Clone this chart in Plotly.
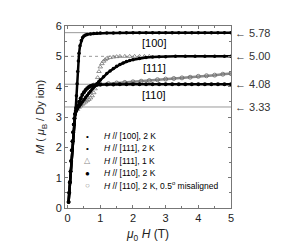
import plotly.graph_objects as go

# ---- data ----
low_x = [0.03, 0.05, 0.07, 0.09, 0.11, 0.13, 0.15, 0.17, 0.19, 0.21, 0.23]
low_m = [0.2, 0.5, 0.85, 1.2, 1.55, 1.9, 2.2, 2.5, 2.75, 2.95, 3.1]

h100_x = low_x + [0.25, 0.27, 0.29, 0.31, 0.33, 0.35, 0.38, 0.42, 0.46, 0.5, 0.55, 0.6, 0.7, 0.8, 0.9,
                  1.0, 1.2, 1.4, 1.6, 1.8, 2.0, 2.2, 2.4, 2.6, 2.8, 3.0, 3.2, 3.4, 3.6, 3.8, 4.0,
                  4.2, 4.4, 4.6, 4.8, 5.0]
h100_m = low_m + [3.3, 3.7, 4.1, 4.5, 4.85, 5.1, 5.35, 5.52, 5.62, 5.67, 5.7, 5.72, 5.74, 5.75, 5.76,
                  5.77, 5.77, 5.77, 5.78, 5.78, 5.78, 5.78, 5.78, 5.78, 5.78, 5.78, 5.78, 5.78, 5.78, 5.78, 5.78,
                  5.78, 5.78, 5.78, 5.78, 5.78]

h111_x = low_x + [0.27, 0.3, 0.35, 0.4, 0.45, 0.5, 0.55, 0.6, 0.65, 0.7, 0.75, 0.8, 0.85, 0.9, 0.95,
                  1.0, 1.1, 1.2, 1.3, 1.4, 1.5, 1.6, 1.7, 1.8, 1.9, 2.0, 2.2, 2.4, 2.6, 2.8, 3.0,
                  3.3, 3.6, 3.9, 4.2, 4.5, 4.8, 5.0]
h111_m = low_m + [3.2, 3.27, 3.35, 3.42, 3.5, 3.57, 3.64, 3.71, 3.78, 3.85, 3.92, 3.98, 4.04, 4.1, 4.16,
                  4.22, 4.33, 4.43, 4.52, 4.6, 4.67, 4.73, 4.78, 4.83, 4.86, 4.89, 4.93, 4.96, 4.98, 4.99, 4.99,
                  5.0, 5.0, 5.0, 5.0, 5.0, 5.0, 5.0]

h111_1k_x = [0.3, 0.35, 0.4, 0.45, 0.5, 0.55, 0.6, 0.65, 0.7, 0.75, 0.8, 0.84, 0.88, 0.92, 0.96,
             1.0, 1.05, 1.1, 1.15, 1.2, 1.3, 1.4, 1.5, 1.6, 1.75, 1.9, 2.05, 2.2, 2.35, 2.5]
h111_1k_m = [3.25, 3.32, 3.37, 3.42, 3.46, 3.5, 3.54, 3.58, 3.63, 3.7, 3.8, 3.93, 4.08, 4.3, 4.5,
             4.65, 4.76, 4.84, 4.89, 4.93, 4.96, 4.98, 4.99, 5.0, 5.0, 5.0, 5.0, 5.0, 5.0, 5.0]

h110_x = low_x + [0.25, 0.3, 0.35, 0.4, 0.45, 0.5, 0.55, 0.6, 0.65, 0.7, 0.75, 0.8, 0.9, 1.0, 1.2,
                  1.4, 1.6, 1.8, 2.0, 2.2, 2.4, 2.6, 2.8, 3.0, 3.2, 3.4, 3.6, 3.8, 4.0, 4.2, 4.4,
                  4.6, 4.8, 5.0]
h110_m = low_m + [3.2, 3.35, 3.5, 3.62, 3.73, 3.82, 3.89, 3.95, 3.99, 4.02, 4.04, 4.05, 4.06, 4.07, 4.07,
                  4.07, 4.08, 4.08, 4.08, 4.08, 4.08, 4.08, 4.08, 4.08, 4.08, 4.08, 4.08, 4.08, 4.08, 4.08, 4.08,
                  4.08, 4.08, 4.08]

h110m_x = [0.8, 0.9, 1.0, 1.25, 1.5, 1.75, 2.0, 2.25, 2.5, 2.75, 3.0, 3.25, 3.5, 3.75, 4.0,
           4.25, 4.5, 4.75, 5.0]
h110m_m = [4.05, 4.07, 4.08, 4.1, 4.12, 4.14, 4.16, 4.18, 4.2, 4.23, 4.25, 4.27, 4.29, 4.31, 4.34,
           4.36, 4.38, 4.41, 4.43]

ref_levels = [5.78, 5.00, 4.08, 3.33]
ref_labels = ["5.78", "5.00", "4.08", "3.33"]
ref_dash = ["solid", "dot", "solid", "solid"]

dir_labels = ["[100]", "[111]", "[110]"]
dir_label_x = [2.65, 2.65, 2.65]
dir_label_y = [5.45, 4.6, 3.72]

legend_texts = [
    "<i>H</i> // [100], 2 K",
    "<i>H</i> // [111], 2 K",
    "<i>H</i> // [111], 1 K",
    "<i>H</i> // [110], 2 K",
    "<i>H</i> // [110], 2 K, 0.5<sup>o</sup> misaligned",
]
legend_symbols = ["•", "•", "△", "●", "○"]
legend_colors = ["#000000", "#000000", "#888888", "#000000", "#888888"]

FONT = "Liberation Sans, Arial, sans-serif"

fig = go.Figure()

# reference lines
for lvl, dash in zip(ref_levels, ref_dash):
    fig.add_shape(type="line", xref="paper", x0=0, x1=1, yref="y", y0=lvl, y1=lvl,
                  line=dict(color="#9a9a9a", width=1, dash=dash), layer="below")

fig.add_trace(go.Scatter(x=h110m_x, y=h110m_m, mode="lines+markers", showlegend=False,
                         line=dict(color="#8a8a8a", width=2.5),
                         marker=dict(symbol="circle-open", size=4, color="#666666", line=dict(width=0.8))))
fig.add_trace(go.Scatter(x=h111_1k_x, y=h111_1k_m, mode="markers", showlegend=False,
                         marker=dict(symbol="triangle-up-open", size=4, color="#777777", line=dict(width=0.8))))
fig.add_trace(go.Scatter(x=h110_x, y=h110_m, mode="lines+markers", showlegend=False,
                         line=dict(color="#000000", width=2.5),
                         marker=dict(symbol="circle", size=4, color="#000000")))
fig.add_trace(go.Scatter(x=h111_x, y=h111_m, mode="lines+markers", showlegend=False,
                         line=dict(color="#000000", width=2.5),
                         marker=dict(symbol="circle", size=3.5, color="#000000")))
fig.add_trace(go.Scatter(x=h100_x, y=h100_m, mode="lines+markers", showlegend=False,
                         line=dict(color="#000000", width=2.5),
                         marker=dict(symbol="circle", size=3.5, color="#000000")))

annotations = []
for lvl, lab in zip(ref_levels, ref_labels):
    annotations.append(dict(xref="paper", x=1.0, yref="y", y=lvl, xanchor="left", yanchor="middle",
                            xshift=2, showarrow=False, text="\u2190 " + lab,
                            font=dict(family=FONT, size=11, color="#333333")))
for t, x, y in zip(dir_labels, dir_label_x, dir_label_y):
    annotations.append(dict(x=x, y=y, xref="x", yref="y", showarrow=False, text=t,
                            font=dict(family=FONT, size=11, color="#000000")))
for i, (t, s, c) in enumerate(zip(legend_texts, legend_symbols, legend_colors)):
    ypos = 0.395 - i * 0.068
    annotations.append(dict(xref="paper", yref="paper", x=0.135, y=ypos, xanchor="center",
                            yanchor="middle", showarrow=False, text=s,
                            font=dict(family=FONT, size=8, color=c)))
    annotations.append(dict(xref="paper", yref="paper", x=0.22, y=ypos, xanchor="left",
                            yanchor="middle", showarrow=False, text=t,
                            font=dict(family=FONT, size=8.5, color="#000000")))

axis_common = dict(showgrid=False, zeroline=False, showline=True, linecolor="#777777", linewidth=1,
                   mirror="ticks", ticks="inside", ticklen=3, tickcolor="#777777",
                   tickfont=dict(family=FONT, size=11, color="#222222"),
                   minor=dict(ticks="inside", ticklen=2, tickcolor="#777777"))

fig.update_layout(
    width=289, height=243,
    margin=dict(l=57, r=66, t=17, b=37),
    paper_bgcolor="white", plot_bgcolor="white",
    showlegend=False,
    annotations=annotations,
    xaxis=dict(range=[-0.08, 5], tickvals=[0, 1, 2, 3, 4, 5], minor_dtick=0.5,
               title=dict(text="<i>\u03bc</i><sub>0</sub> <i>H</i> (T)", standoff=6,
                          font=dict(family=FONT, size=12, color="#222222")),
               **axis_common),
    yaxis=dict(range=[0, 6], tickvals=[0, 1, 2, 3, 4, 5, 6], minor_dtick=0.5,
               title=dict(text="<i>M</i> ( <i>\u03bc</i><sub>B</sub> / Dy ion)", standoff=8,
                          font=dict(family=FONT, size=11, color="#222222")),
               **axis_common),
)

fig.write_html("out.html")
